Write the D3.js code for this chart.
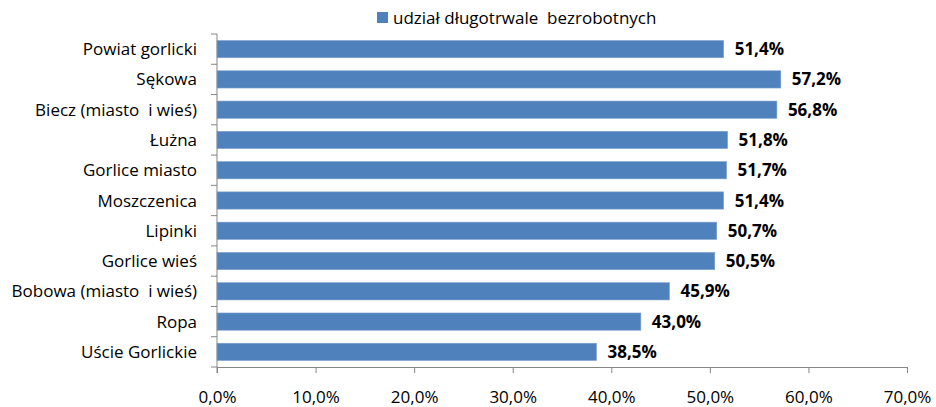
<!DOCTYPE html>
<html>
<head>
<meta charset="utf-8">
<script src="https://cdn.jsdelivr.net/npm/d3@7"></script>
<style>
  body { margin: 0; background: #ffffff; }
  text { font-family: "Open Sans", Lato, sans-serif; }
</style>
</head>
<body>
<svg id="chart" width="936" height="407"></svg>
<script>
// dane
const categories = ["Powiat gorlicki", "Sękowa", "Biecz (miasto  i wieś)", "Łużna", "Gorlice miasto",
  "Moszczenica", "Lipinki", "Gorlice wieś", "Bobowa (miasto  i wieś)", "Ropa", "Uście Gorlickie"];
const values = [51.4, 57.2, 56.8, 51.8, 51.7, 51.4, 50.7, 50.5, 45.9, 43.0, 38.5];
const xTicks = [0, 10, 20, 30, 40, 50, 60, 70];
const seriesName = "udział długotrwale  bezrobotnych";

const svg = d3.select("#chart");
const mLeft = 217, mRight = 907, mTop = 34, mBottom = 367;
const axisColor = "#868686";
const barColor = "#4F81BD";
const fontSize = 17;
const fmtPct = d => d.toFixed(1).replace(".", ",") + "%";

const x = d3.scaleLinear().domain([0, 70]).range([mLeft, mRight]);
const y = d3.scaleBand().domain(categories).range([mTop, mBottom]).paddingInner(0.43).paddingOuter(0.215);

// legenda
let g_legend = svg.append("g");
g_legend.append("rect")
  .attr("x", 377).attr("y", 12).attr("width", 11).attr("height", 11)
  .attr("fill", barColor);
g_legend.append("text")
  .attr("x", 393).attr("y", 24)
  .attr("font-size", fontSize)
  .attr("fill", "#000")
  .style("white-space", "pre")
  .text(seriesName);

// słupki
svg.append("g").selectAll("rect")
  .data(values)
  .join("rect")
  .attr("x", x(0))
  .attr("y", (d, i) => y(categories[i]))
  .attr("width", d => x(d) - x(0))
  .attr("height", y.bandwidth())
  .attr("fill", barColor)
  .attr("stroke", "#7fa3cf")
  .attr("stroke-width", 0.6);

// etykiety wartości
svg.append("g").selectAll("text")
  .data(values)
  .join("text")
  .attr("x", d => x(d) + 11)
  .attr("y", (d, i) => y(categories[i]) + y.bandwidth() / 2 + 6)
  .attr("font-size", fontSize)
  .attr("font-weight", "bold")
  .attr("fill", "#000")
  .text(fmtPct);

// oś X
let g_x = svg.append("g").attr("transform", `translate(0,${mBottom})`);
g_x.call(d3.axisBottom(x).tickValues(xTicks).tickSize(6).tickPadding(18)
  .tickFormat(fmtPct));
g_x.select(".domain").attr("stroke", axisColor);
g_x.selectAll(".tick line").attr("stroke", axisColor);
g_x.selectAll(".tick text").attr("font-size", fontSize).attr("fill", "#000")
  .style("font-family", "'Open Sans', sans-serif");

// oś Y
let g_y = svg.append("g").attr("transform", `translate(${mLeft},0)`);
g_y.append("line")
  .attr("y1", mTop).attr("y2", mBottom + 6)
  .attr("stroke", axisColor);
const boundaries = categories.map(c => y(c) - y.step() * y.paddingInner() / 2);
boundaries[0] = mTop;
g_y.selectAll("line.tk")
  .data(boundaries.concat([mBottom]))
  .join("line")
  .classed("tk", true)
  .attr("x1", -6).attr("x2", 0)
  .attr("y1", d => d).attr("y2", d => d)
  .attr("stroke", axisColor);
g_y.selectAll("text")
  .data(categories)
  .join("text")
  .attr("x", -20)
  .attr("y", d => y(d) + y.bandwidth() / 2 + 6)
  .attr("text-anchor", "end")
  .attr("font-size", fontSize)
  .attr("fill", "#000")
  .style("white-space", "pre")
  .text(d => d);
</script>
</body>
</html>
